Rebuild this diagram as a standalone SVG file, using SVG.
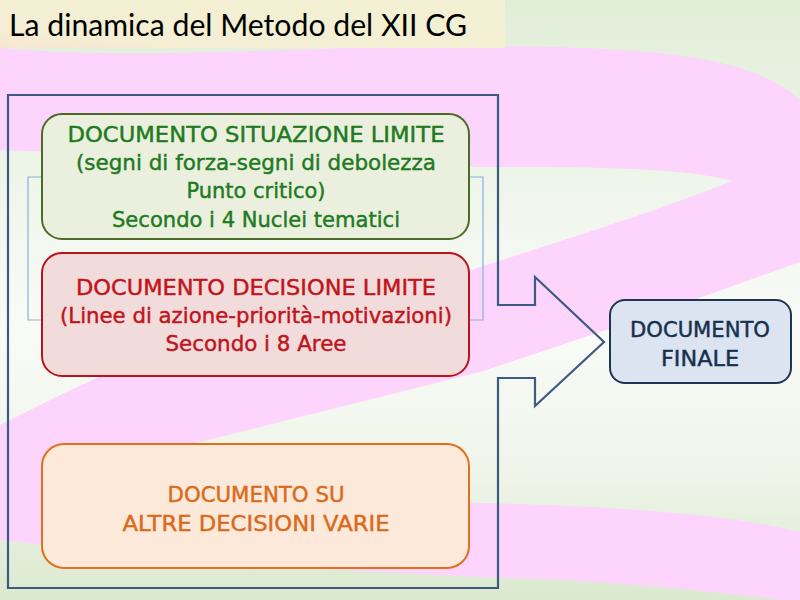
<svg xmlns="http://www.w3.org/2000/svg" width="800" height="600" viewBox="0 0 800 600">
  <defs>
    <linearGradient id="bg" x1="0" y1="0" x2="0" y2="1">
      <stop offset="0" stop-color="#e1eed7"/>
      <stop offset="0.3" stop-color="#eef5ea"/>
      <stop offset="0.55" stop-color="#f9fbf7"/>
      <stop offset="0.78" stop-color="#eff5ea"/>
      <stop offset="1" stop-color="#dbe9cf"/>
    </linearGradient>
    <linearGradient id="titlebg" x1="0" y1="1" x2="1" y2="0">
      <stop offset="0" stop-color="#f6e6d2"/>
      <stop offset="0.25" stop-color="#f4efd4"/>
      <stop offset="1" stop-color="#f3f0d3"/>
    </linearGradient>
    <style>
      .pink { fill: #fcd4fc; }
      .box { stroke-width: 2; }
      .t { font-family: "DejaVu Sans", "Liberation Sans", sans-serif; font-size: 21.5px; text-anchor: middle; stroke-width: 0.45; }
      .green { fill: #eaf0dd; stroke: #4e6a2b; }
      .red { fill: #f2dcdb; stroke: #b8141c; }
      .orange { fill: #fde9d9; stroke: #e0701e; }
      .final { fill: #dbe4f0; stroke: #1f3552; }
      .tg { fill: #1f7a1f; stroke: #1f7a1f; }
      .tr { fill: #c0141c; stroke: #c0141c; }
      .to { fill: #d96a1c; stroke: #d96a1c; }
      .tf { fill: #17304d; stroke: #17304d; }
      .outline { fill: none; stroke: #3d5a80; stroke-width: 2.2; stroke-linejoin: miter; }
      .bracket { fill: none; stroke: #8cb0de; stroke-width: 1.2; }
    </style>
  </defs>

  <!-- background -->
  <rect x="0" y="0" width="800" height="600" fill="url(#bg)"/>
  <path class="pink" d="M0,48 C150,62 350,42 550,47 C680,50 760,62 800,100 L800,262 C770,272 700,300 480,372 L0,492 L0,425 C40,405 70,390 97,378 C250,330 400,295 480,267 C580,235 660,210 732,181 C700,172 650,166 480,167 L0,150 Z"/>
  <path class="pink" d="M0,462 C200,485 350,500 480,503 C620,506 730,515 800,532 L800,602 C700,590 600,580 480,577 C300,570 150,555 0,540 Z"/>

  <!-- title -->
  <g id="title">
    <rect x="0" y="0" width="505" height="48" fill="url(#titlebg)"/>
    <text x="9" y="36" font-family="Lato, 'Liberation Sans', sans-serif" font-size="30" fill="#000" textLength="458" lengthAdjust="spacingAndGlyphs">La dinamica del Metodo del XII CG</text>
  </g>

  <!-- container arrow -->
  <g id="container-arrow">
    <path class="outline" d="M8,95 L498,95 L498,305 L535,305 L535,277 L604,342 L535,406 L535,378 L498,378 L498,588 L8,588 Z"/>
  </g>

  <!-- connectors -->
  <g id="connectors">
    <path class="bracket" d="M42,177 L28,177 L28,320 L42,320"/>
    <path class="bracket" d="M469,177 L483,177 L483,320 L469,320"/>
  </g>

  <g id="node-situazione">
    <rect class="box green" x="42" y="114" width="427" height="125" rx="20"/>
    <text class="t tg" x="256" y="142" textLength="377" lengthAdjust="spacingAndGlyphs">DOCUMENTO SITUAZIONE LIMITE</text>
    <text class="t tg" x="256" y="170" textLength="360" lengthAdjust="spacingAndGlyphs">(segni di forza-segni di debolezza</text>
    <text class="t tg" x="256" y="198" textLength="139" lengthAdjust="spacingAndGlyphs">Punto critico)</text>
    <text class="t tg" x="256" y="227" textLength="288" lengthAdjust="spacingAndGlyphs">Secondo i 4 Nuclei tematici</text>
  </g>

  <g id="node-decisione">
    <rect class="box red" x="42" y="253" width="427" height="123" rx="20"/>
    <text class="t tr" x="256" y="295" textLength="360" lengthAdjust="spacingAndGlyphs">DOCUMENTO DECISIONE LIMITE</text>
    <text class="t tr" x="256" y="323" textLength="392" lengthAdjust="spacingAndGlyphs">(Linee di azione-priorità-motivazioni)</text>
    <text class="t tr" x="256" y="351" textLength="181" lengthAdjust="spacingAndGlyphs">Secondo i 8 Aree</text>
  </g>

  <g id="node-altre">
    <rect class="box orange" x="42" y="444" width="427" height="124" rx="22"/>
    <text class="t to" x="256" y="502" textLength="177" lengthAdjust="spacingAndGlyphs">DOCUMENTO SU</text>
    <text class="t to" x="256" y="531" textLength="267" lengthAdjust="spacingAndGlyphs">ALTRE DECISIONI VARIE</text>
  </g>

  <g id="node-finale">
    <rect class="box final" x="610" y="300" width="181" height="83" rx="15"/>
    <text class="t tf" x="700" y="337" textLength="140" lengthAdjust="spacingAndGlyphs">DOCUMENTO</text>
    <text class="t tf" x="700" y="366" textLength="78" lengthAdjust="spacingAndGlyphs">FINALE</text>
  </g>
</svg>
